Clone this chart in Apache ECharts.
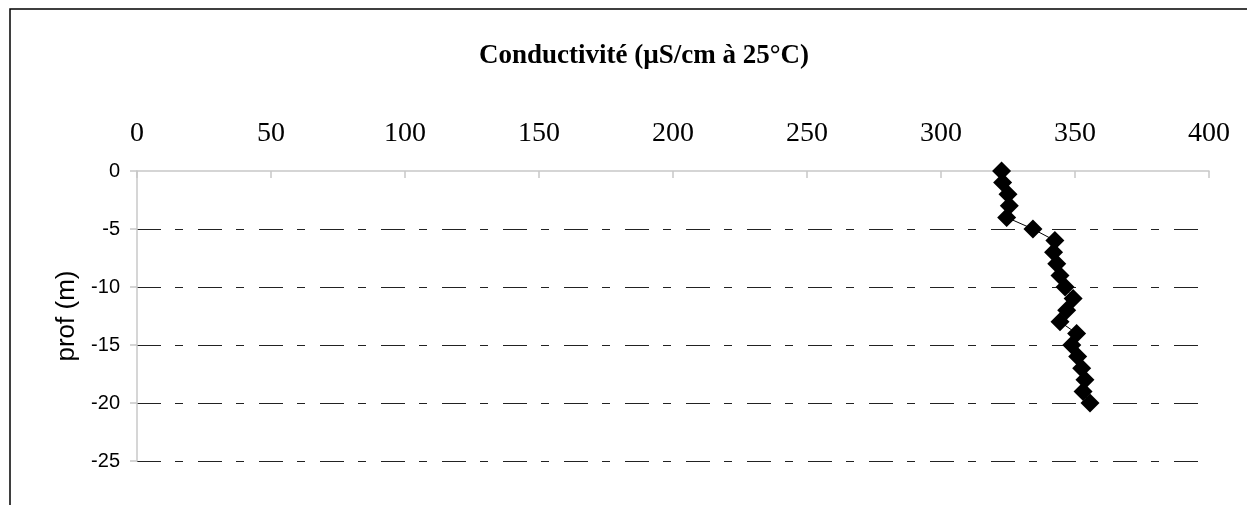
<!DOCTYPE html>
<html>
<head>
<meta charset="utf-8">
<script src="https://cdn.jsdelivr.net/npm/echarts@6/dist/echarts.min.js"></script>
<style>html,body{margin:0;padding:0;background:#fff;}#c{width:1247px;height:505px;}</style>
</head>
<body>
<div id="c"></div>
<script>
var titleText = 'Conductivité (µS/cm à 25°C)';
var yAxisName = 'prof (m)';
var depths = [0, -1, -2, -3, -4, -5, -6, -7, -8, -9, -10, -11, -12, -13, -14, -15, -16, -17, -18, -19, -20];
var conductivity = [322.6, 323, 325, 325.5, 324.5, 334.3, 342.5, 342, 343.2, 344.4, 346.3, 349.3, 346.9, 344.4, 350.6, 348.8, 351, 352.5, 353.7, 353, 355.6];

var chart = echarts.init(document.getElementById('c'));
var pts = conductivity.map(function (v, i) { return [v, depths[i]]; });
chart.setOption({
  animation: false,
  backgroundColor: '#fff',
  title: {
    text: titleText, left: 474, top: 38,
    textStyle: { fontFamily: 'Liberation Serif', fontWeight: 'bold', fontSize: 27, color: '#000' }
  },
  graphic: [{
    type: 'rect', shape: { x: 10, y: 9, width: 1300, height: 600 },
    style: { fill: 'none', stroke: '#000', lineWidth: 1.5 }, silent: true
  }],
  grid: { left: 137, right: 38, top: 171, bottom: 44 },
  xAxis: {
    type: 'value', position: 'top', min: 0, max: 400, interval: 50,
    axisLine: { show: true, lineStyle: { color: '#c8c8c8', width: 1.5 } },
    axisTick: { show: true, inside: true, length: 7, lineStyle: { color: '#c8c8c8', width: 1.5 } },
    axisLabel: { margin: 23, fontFamily: 'Liberation Serif', fontSize: 28, color: '#000' },
    splitLine: { show: false }
  },
  yAxis: {
    type: 'value', min: -25, max: 0, interval: 5,
    name: yAxisName, nameLocation: 'middle', nameRotate: 90, nameGap: 57,
    nameTextStyle: { fontFamily: 'Liberation Sans', fontSize: 26, color: '#000' },
    axisLine: { show: true, onZero: false, lineStyle: { color: '#c8c8c8', width: 1.5 } },
    axisTick: { show: true, length: 7, lineStyle: { color: '#c8c8c8', width: 1.5 } },
    axisLabel: { margin: 17, fontFamily: 'Liberation Sans', fontSize: 20, color: '#000' },
    splitLine: { show: true, showMaxLine: false, showMinLine: true, lineStyle: { color: '#222', width: 1.2, type: [24, 14, 8, 15] } }
  },
  series: [{
    type: 'line', data: pts, symbol: 'diamond', symbolSize: 19,
    lineStyle: { color: '#000', width: 1 },
    itemStyle: { color: '#000' }
  }]
});
</script>
</body>
</html>
